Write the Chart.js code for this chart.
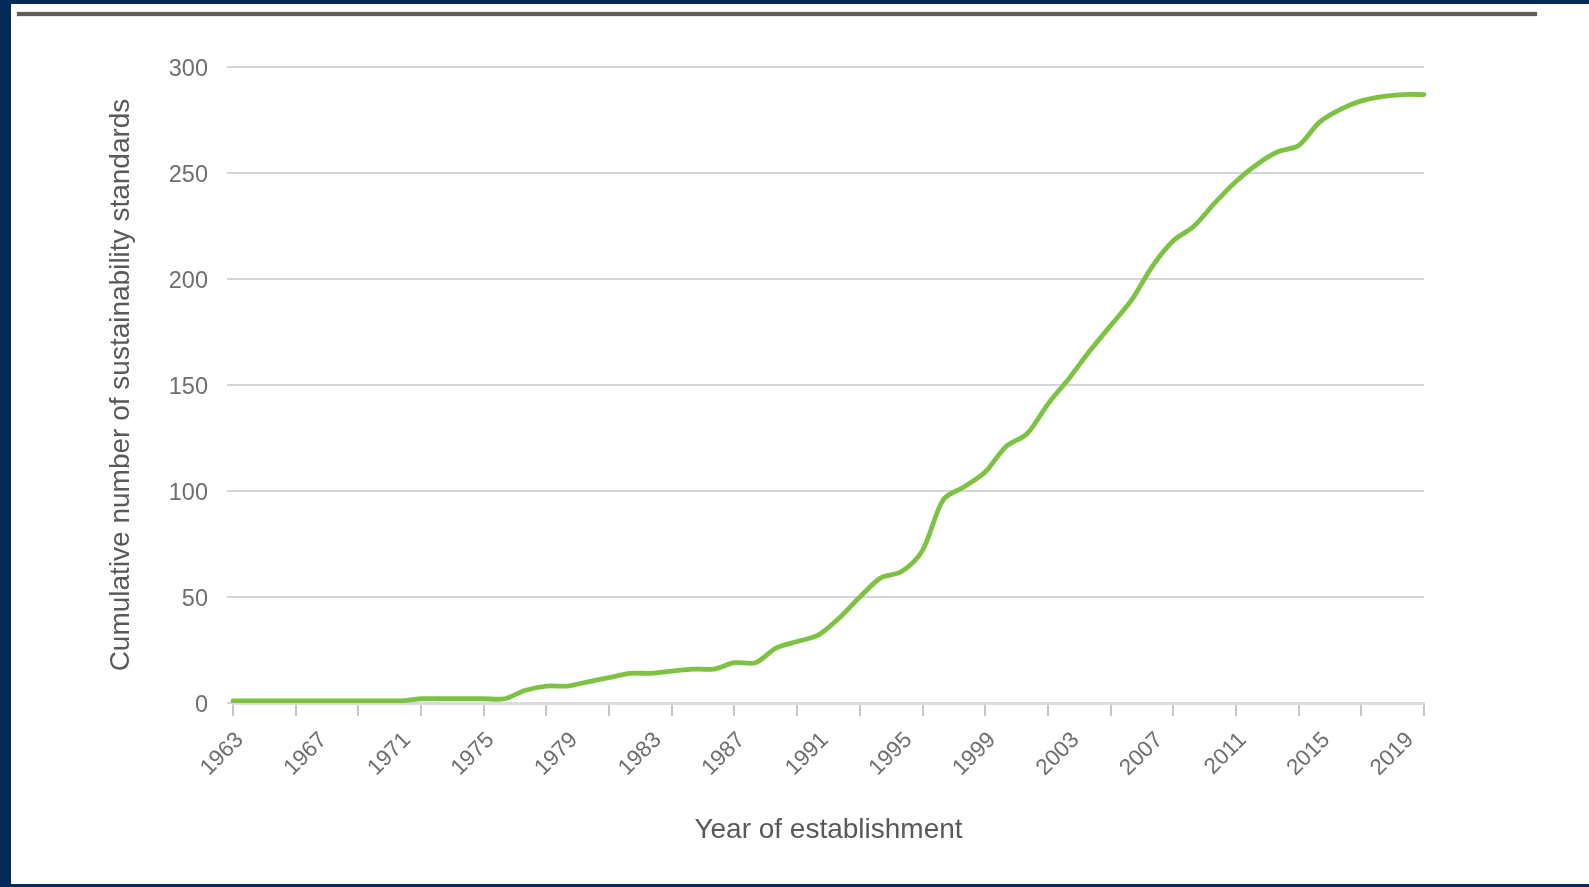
<!DOCTYPE html>
<html>
<head>
<meta charset="utf-8">
<script src="https://cdn.jsdelivr.net/npm/chart.js@4.4.1/dist/chart.umd.min.js"></script>
<style>
  html, body { margin: 0; padding: 0; width: 1589px; height: 887px; overflow: hidden; background: #032b5a; }
  #panel { position: absolute; left: 11px; top: 4px; width: 1578px; height: 880px; background: #ffffff; }
  #rule { position: absolute; left: 17px; top: 12px; width: 1520px; height: 4px; background: #5e5e5e; box-shadow: 0 0 1.5px #8a8a8a; }
  #wrap { position: absolute; left: 0; top: 0; width: 1589px; height: 887px; }
</style>
</head>
<body>
<div id="panel"></div>
<div id="rule"></div>
<div id="wrap"><canvas id="c" width="1589" height="887"></canvas></div>
<script>
const years = [1963,1964,1965,1966,1967,1968,1969,1970,1971,1972,1973,1974,1975,1976,1977,1978,1979,1980,
  1981,1982,1983,1984,1985,1986,1987,1988,1989,1990,1991,1992,1993,1994,1995,1996,1997,1998,1999,2000,
  2001,2002,2003,2004,2005,2006,2007,2008,2009,2010,2011,2012,2013,2014,2015,2016,2017,2018,2019,2020];
const cumulativeStandards = [1,1,1,1,1,1,1,1,1,2,2,2,2,2,6,8,8,10,
  12,14,14,15,16,16,19,19,26,29,32,40,50,59,62,72,96,102,109,121,
  127,141,153,166,178,190,206,218,225,236,246,254,260,263,274,280,284,286,287,287];
const yTicks = [0,50,100,150,200,250,300];
const labelEvery = 4;
const tickEvery = 3;
const xTitle = 'Year of establishment';
const yTitle = 'Cumulative number of sustainability standards';

const FONT = "'Liberation Sans', Arial, Helvetica, sans-serif";

new Chart(document.getElementById('c'), {
  type: 'line',
  data: {
    labels: years.map(String),
    datasets: [{
      data: cumulativeStandards,
      borderColor: '#7dc243',
      borderWidth: 4.8,
      pointRadius: 0,
      tension: 0.3,
      fill: false,
      borderCapStyle: 'round',
      borderJoinStyle: 'round'
    }]
  },
  options: {
    responsive: false,
    animation: false,
    layout: { padding: { left: 98, top: 67, right: 165, bottom: 36 } },
    plugins: { legend: { display: false }, tooltip: { enabled: false } },
    scales: {
      x: {
        type: 'category',
        offset: false,
        afterFit: s => { s.height = 148; },
        border: { display: true, color: '#d9dcdc', width: 3 },
        grid: {
          drawOnChartArea: false,
          drawTicks: true,
          tickLength: 13,
          color: c => (c.index % tickEvery === 0 ? '#c4c6c6' : 'rgba(0,0,0,0)'),
          lineWidth: 2
        },
        ticks: {
          autoSkip: false,
          minRotation: 45,
          maxRotation: 45,
          padding: 11,
          labelOffset: 7,
          color: '#6d6e70',
          font: { family: FONT, size: 22.5 },
          callback: (v, i) => (i % labelEvery === 0 ? years[i] : '')
        },
        title: {
          display: true,
          text: xTitle,
          color: '#58595b',
          font: { family: FONT, size: 28 },
          padding: { top: 0, bottom: 4 }
        }
      },
      y: {
        min: 0,
        max: 300,
        afterFit: s => { s.width = 135; },
        afterBuildTicks: s => { s.ticks = yTicks.map(v => ({ value: v })); },
        border: { display: false },
        grid: {
          color: '#d3d6d6',
          lineWidth: 2,
          drawTicks: true,
          tickLength: 6
        },
        ticks: {
          padding: 19,
          labelOffset: 3,
          color: '#6d6e70',
          font: { family: FONT, size: 23.5 }
        },
        title: {
          display: true,
          text: yTitle,
          color: '#58595b',
          font: { family: FONT, size: 28 },
          padding: { top: 6, bottom: 0 }
        }
      }
    }
  }
});
</script>
</body>
</html>
